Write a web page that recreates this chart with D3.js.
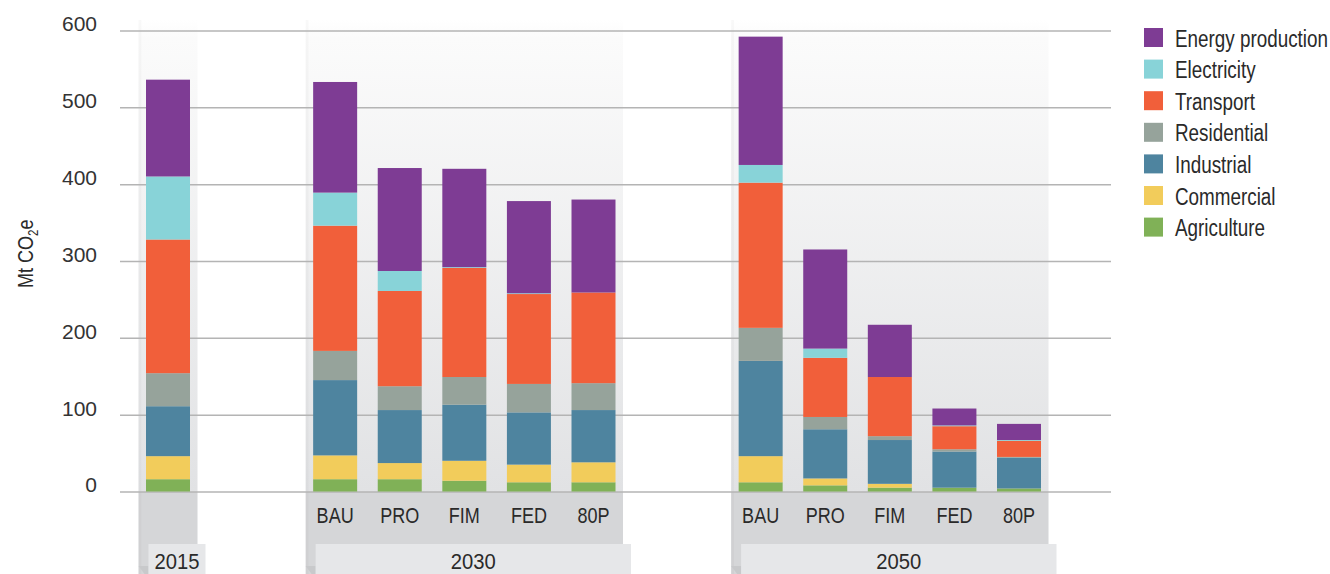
<!DOCTYPE html>
<html>
<head>
<meta charset="utf-8">
<script src="https://cdn.jsdelivr.net/npm/d3@7/dist/d3.min.js"></script>
<style>
  html, body { margin: 0; padding: 0; background: #fff; }
  svg { display: block; }
  text { font-family: "Liberation Sans", Arial, sans-serif; }
</style>
</head>
<body>
<svg id="chart" width="1330" height="574"></svg>
<script>
// Emissions by sector, Mt CO2e, one entry per bar:
// 2015, 2030 BAU/PRO/FIM/FED/80P, 2050 BAU/PRO/FIM/FED/80P
const groups = ["2015", "2030", "2050"];
const scenarios = ["BAU", "PRO", "FIM", "FED", "80P"];
const barGroups = ["2015", "2030", "2030", "2030", "2030", "2030", "2050", "2050", "2050", "2050", "2050"];
const barLabels = ["", "BAU", "PRO", "FIM", "FED", "80P", "BAU", "PRO", "FIM", "FED", "80P"];

const agriculture      = [16, 16, 16, 14, 12, 12, 12, 8, 5, 5, 4];
const commercial       = [30, 31, 21, 26, 23, 26, 34, 9, 5, 0, 0];
const industrial       = [65, 98, 69, 73, 68, 68, 124, 64, 57, 47, 40];
const residential      = [43, 38, 31, 36, 37, 35, 43, 16, 5, 3, 1];
const transport        = [174, 163, 124, 142, 117, 118, 189, 77, 77, 30, 21];
const electricity      = [82, 43, 26, 1, 1, 0, 23, 12, 0, 1, 1];
const energyProduction = [126, 144, 134, 128, 120, 121, 167, 129, 68, 22, 21];

// Stack order, bottom to top
const sectors = ["Agriculture", "Commercial", "Industrial", "Residential", "Transport", "Electricity", "Energy production"];
const sectorValues = [agriculture, commercial, industrial, residential, transport, electricity, energyProduction];
const sectorColors = ["#80b157", "#f2cc5b", "#4e849f", "#96a39b", "#f15f3a", "#88d3d8", "#7e3c94"];

const yTicks = [0, 100, 200, 300, 400, 500, 600];

// ---- layout ----
const svg = d3.select("#chart");
const W = 1330, H = 574;
const plotLeft = 120, plotRight = 1111;
const yTop = 30.5, yBase = 491.5;
const narrow = 0.82; // horizontal squeeze for the condensed label face

const y = d3.scaleLinear().domain([0, 600]).range([yBase, yTop]);

// horizontal position in "bar slots": groups separated by a wider gap
const groupPad = 0.457, groupGap = 1.674;
const slotPos = [];
const groupExtent = {};
let cursor = 0;
groups.forEach((g, gi) => {
  const idx = barGroups.map((b, i) => b === g ? i : -1).filter(i => i >= 0);
  if (gi > 0) cursor += groupPad * 2 + groupGap;
  const start = cursor;
  idx.forEach((i, k) => { slotPos[i] = start + k; });
  cursor = start + idx.length - 1;
  groupExtent[g] = [start - groupPad, cursor + groupPad];
});
const x = d3.scaleLinear().domain([0, cursor]).range([168, 1019]);
const barW = 44;

// stacked data
const table = barLabels.map((lab, i) => {
  const row = { i, group: barGroups[i], label: lab };
  sectors.forEach((s, k) => { row[s] = sectorValues[k][i]; });
  return row;
});
const stack = d3.stack().keys(sectors)(table);

const color = d3.scaleOrdinal().domain(sectors).range(sectorColors);

// ---- defs: background gradient ----
const defs = svg.append("defs");
const grad = defs.append("linearGradient")
  .attr("id", "bandGrad").attr("x1", 0).attr("y1", 0).attr("x2", 0).attr("y2", 1);
grad.append("stop").attr("offset", "0%").attr("stop-color", "#ffffff");
grad.append("stop").attr("offset", "4%").attr("stop-color", "#fbfbfb");
grad.append("stop").attr("offset", "100%").attr("stop-color", "#e1e2e4");

// ---- group background panels ----
const panels = svg.append("g");
groups.forEach(g => {
  const x0 = x(groupExtent[g][0]), x1 = x(groupExtent[g][1]);
  panels.append("rect")
    .attr("x", x0).attr("y", 20).attr("width", x1 - x0).attr("height", yBase - 20)
    .attr("fill", "url(#bandGrad)");
  panels.append("rect")
    .attr("x", x0).attr("y", yBase).attr("width", x1 - x0).attr("height", H - yBase)
    .attr("fill", "#d5d6d8");
  // left edge shading
  panels.append("rect")
    .attr("x", x0).attr("y", 20).attr("width", 3).attr("height", H - 20)
    .attr("fill", "#000").attr("opacity", 0.025);
  panels.append("path")
    .attr("d", `M${x0},566 L${x0 + 10},566 L${x0 + 10},${H} L${x0 + 6},${H} Z`)
    .attr("fill", "#c8c9cb");
  // label tab
  const tx = x0 + 10, tw = x1 - x0 - 2;
  panels.append("rect")
    .attr("x", tx).attr("y", 544).attr("width", tw).attr("height", H - 544)
    .attr("fill", "#e6e7e9");
  panels.append("text")
    .attr("transform", `translate(${tx + tw / 2},568.5) scale(0.92,1)`)
    .attr("text-anchor", "middle")
    .attr("font-size", 22).attr("fill", "#2a2a2a")
    .text(g);
});

// ---- gridlines & y axis ----
const yAxis = d3.axisLeft(y).tickValues(yTicks).tickSize(-(plotRight - plotLeft)).tickPadding(23);
const axisG = svg.append("g").attr("transform", `translate(${plotLeft},0)`).call(yAxis);
axisG.attr("font-family", null);
axisG.select(".domain").remove();
axisG.selectAll(".tick line").attr("stroke", "#b4b4b4").attr("stroke-width", 1.5);
axisG.selectAll(".tick text")
  .attr("font-size", 21).attr("fill", "#333")
  .attr("dy", "0.02em");

// y axis title
const yt = svg.append("text")
  .attr("transform", `translate(33,288) rotate(-90) scale(${narrow},1)`)
  .attr("font-size", 22).attr("fill", "#2a2a2a");
yt.append("tspan").text("Mt CO");
yt.append("tspan").attr("font-size", 14).attr("dy", 5).text("2");
yt.append("tspan").attr("dy", -5).text("e");

// ---- bars ----
const bars = svg.append("g");
stack.forEach(layer => {
  bars.append("g").attr("fill", color(layer.key))
    .selectAll("rect").data(layer).join("rect")
    .attr("x", d => x(slotPos[d.data.i]) - barW / 2)
    .attr("width", barW)
    .attr("y", d => y(d[1]))
    .attr("height", d => Math.max(0, y(d[0]) - y(d[1])));
});

// scenario labels
svg.append("g").selectAll("text").data(table.filter(d => d.label)).join("text")
  .attr("transform", d => `translate(${x(slotPos[d.i])},523) scale(${narrow},1)`)
  .attr("text-anchor", "middle")
  .attr("font-size", 22).attr("fill", "#2a2a2a")
  .text(d => d.label);

// ---- legend ----
const legendOrder = sectors.slice().reverse();
const legend = svg.append("g").attr("transform", "translate(1144,28)");
const li = legend.selectAll("g").data(legendOrder).join("g")
  .attr("transform", (d, i) => `translate(0,${i * 31.6})`);
li.append("rect").attr("width", 19).attr("height", 19).attr("fill", d => color(d));
li.append("text")
  .attr("transform", `translate(31,18.5) scale(${narrow},1)`)
  .attr("font-size", 23).attr("fill", "#2a2a2a")
  .text(d => d);
</script>
</body>
</html>
